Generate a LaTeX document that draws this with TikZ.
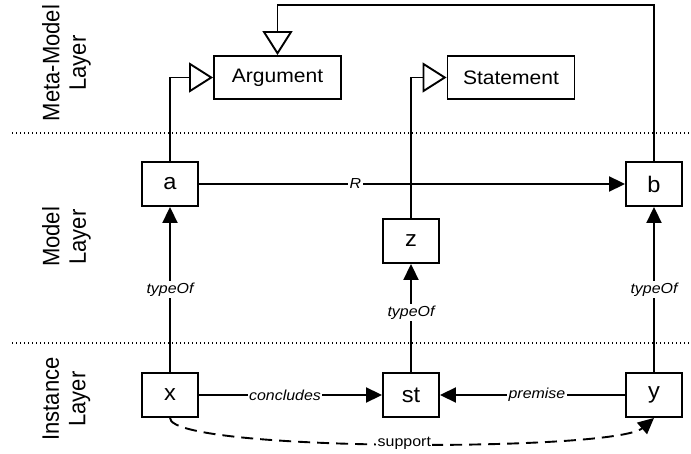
\documentclass[tikz,border=0pt]{standalone}
\usepackage{fontspec}
\setmainfont{Liberation Sans}[FakeStretch=1.08]
\newfontfamily\boxfont{Liberation Sans}[FakeStretch=1.05]
\newfontfamily\lblfont{Liberation Sans}[FakeStretch=1.1]
\newfontfamily\layerfont{Liberation Sans}[FakeStretch=0.925]
\usetikzlibrary{arrows.meta}

\begin{document}
\begin{tikzpicture}[x=1pt,y=-1pt,
  line width=1.9pt,
  box/.style={draw, fill=white, minimum width=56pt, minimum height=44pt,
    inner sep=0pt, font=\boxfont\fontsize{22.5}{26}\selectfont},
  cls/.style={box, minimum width=127pt, minimum height=43pt,
    font=\fontsize{19.5}{23}\selectfont},
  rel/.style={-{Triangle[length=16pt,width=15pt]}},
  inherit/.style={-{Triangle[length=24pt,width=30pt,fill=white]}},
  lbl/.style={fill=white, inner sep=1.5pt, font=\lblfont\fontsize{14.5}{17}\selectfont\itshape},
  plainlbl/.style={lbl, font=\lblfont\fontsize{14.5}{17}\selectfont},
  layer/.style={rotate=90, align=center, font=\layerfont\fontsize{23.8}{26.5}\selectfont},
  sep/.style={line width=1.2pt, dash pattern=on 1.2pt off 2.8pt},
  supportline/.style={rel, dash pattern=on 12pt off 7pt}
]
\useasboundingbox (0,0) rectangle (691,454);

% layer separators
\draw[sep] (12,133) -- (691,133);
\draw[sep] (12,343) -- (691,343);

% layer captions
\node[layer] (ml)  at (66.5,63)  {Meta-Model\\Layer};
\node[layer] (mdl) at (66.5,237) {Model\\Layer};
\node[layer] (il)  at (66.5,399) {Instance\\Layer};

% meta-model classes
\node[cls] (arg) at (277.5,77.5) {Argument};
\node[cls] (stm) at (511,77.5) {Statement};

% model elements
\node[box] (a) at (170,184) {a};
\node[box] (b) at (654,184) {b};
\node[box] (z) at (411,241) {z};

% instances
\node[box] (x)  at (170,395) {x};
\node[box] (st) at (411,395) {st};
\node[box] (y)  at (654,395) {y};

% generalisations
\coordinate (top) at (0,5);
\draw[inherit] (a.north) |- (arg.west);
\draw[inherit] (z.north) |- (stm.west);
\draw[inherit] (b.north) -- (b.north |- top) -- (arg.north |- top) -- (arg.north);

% relations
\draw[rel] (a) -- node[lbl, pos=0.367] {R} (b);
\draw[rel] (x) -- node[lbl, pos=0.5] {typeOf} (a);
\draw[rel] (st) -- node[lbl, pos=0.55] {typeOf} (z);
\draw[rel] (y) -- node[lbl, pos=0.5] {typeOf} (b);
\draw[rel] (x) -- node[lbl, pos=0.47] {concludes} (st);
\draw[rel] (y) -- node[lbl, pos=0.476] {premise} (st);
\draw[supportline] (x.south) .. controls (170,452) and (615,452) .. node[plainlbl, pos=0.51] {support} (y.south);
\end{tikzpicture}
\end{document}
